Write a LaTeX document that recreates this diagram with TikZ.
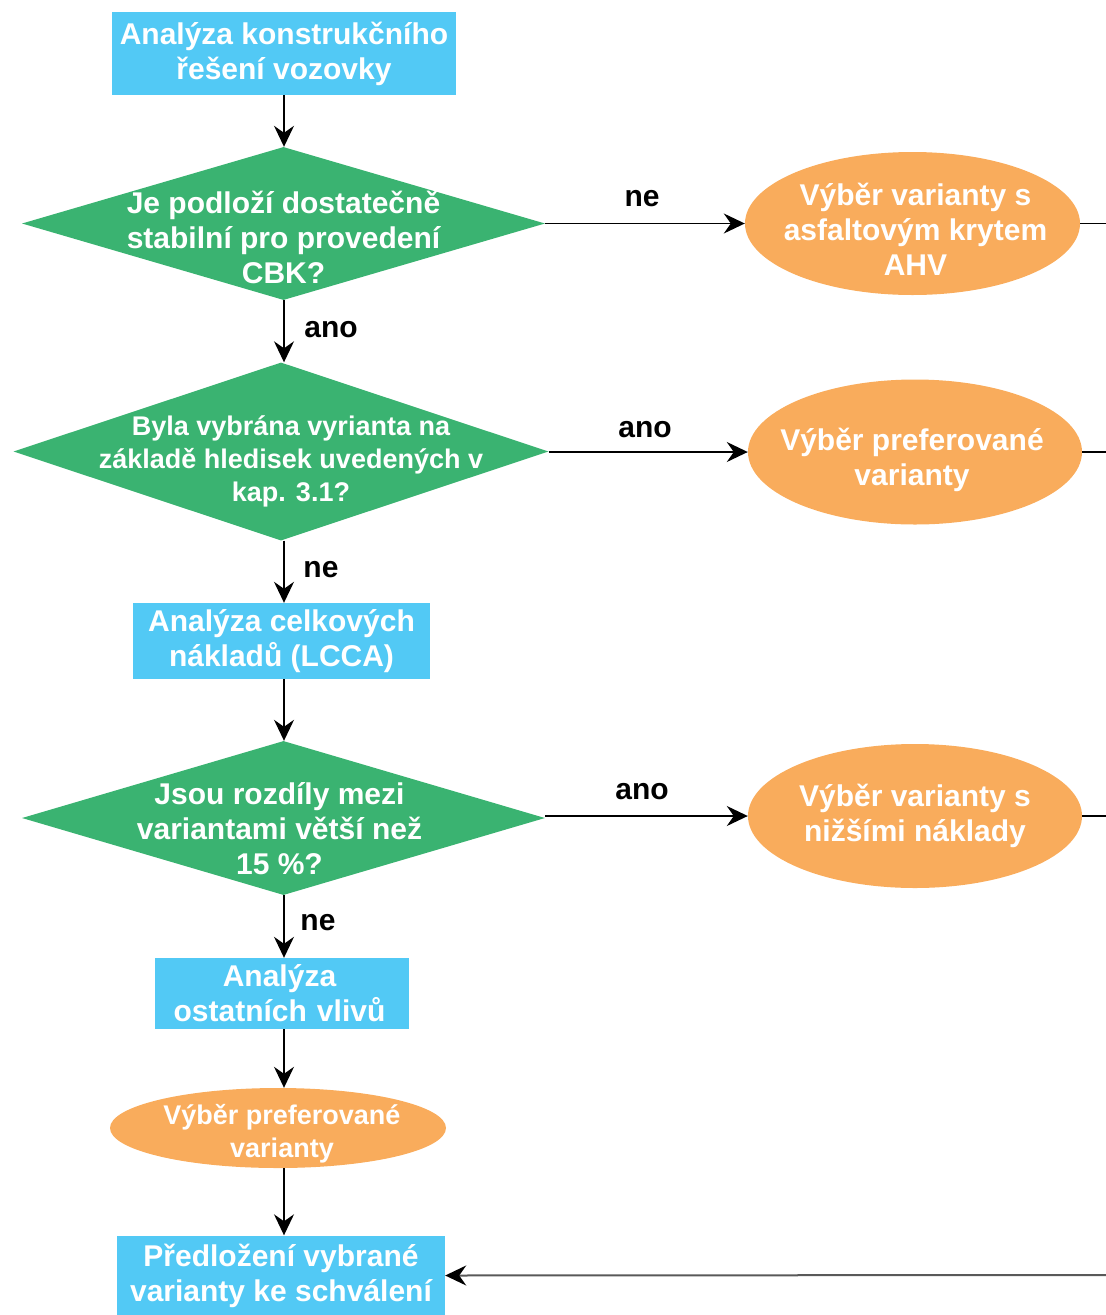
\documentclass[tikz,border=0pt]{standalone}
\usepackage{fontspec}
\setmainfont{Liberation Sans}
\usetikzlibrary{shapes.geometric,arrows.meta}
\definecolor{boxblue}{RGB}{82,201,245}
\definecolor{qgreen}{RGB}{58,179,113}
\definecolor{resorange}{RGB}{249,172,92}

\begin{document}
\begin{tikzpicture}[x=1pt,y=-1pt,
  every node/.style={font=\bfseries\fontsize{30}{35}\selectfont},
  procbox/.style={rectangle, fill=boxblue, inner sep=0pt, align=center, text=white},
  decision/.style={diamond, fill=qgreen, inner sep=0pt},
  result/.style={ellipse, fill=resorange, inner sep=0pt},
  inner/.style={align=center, text=white},
  smalltext/.style={font=\bfseries\fontsize{27}{33}\selectfont},
  answer/.style={text=black},
  tip/.style={-{Stealth[length=21pt,width=20pt,inset=7pt]}},
  flow/.style={draw=black, line width=1.4pt, tip},
  link/.style={draw=black, line width=1.4pt}
]
\useasboundingbox (0,0) rectangle (1106,1315);

% main column
\node[procbox, minimum width=344pt, minimum height=83pt] (a1) at (284,53.5)
  {Analýza konstrukčního\\řešení vozovky};
\node[decision, minimum width=523pt, minimum height=153pt,
  label={[inner, yshift=-14pt]center:Je podloží dostatečně\\stabilní pro provedení\\CBK?}] (q1) at (283.5,223.5) {};
\node[decision, minimum width=535pt, minimum height=178pt,
  label={[inner, smalltext, xshift=10pt, yshift=-10pt]center:Byla vybrána vyrianta na\\základě hledisek uvedených v\\kap. 3.1?}] (q2) at (281,451.5) {};
\node[procbox, minimum width=297pt, minimum height=76pt] (a2) at (281.5,641)
  {Analýza celkových\\nákladů (LCCA)};
\node[decision, minimum width=523pt, minimum height=154pt,
  label={[inner, xshift=-4pt, yshift=-11pt]center:Jsou rozdíly mezi\\variantami větší než\\15 \%?}] (q3) at (283.5,818) {};
\node[procbox, minimum width=254pt, minimum height=71pt, text width=254pt] (a3) at (282,993.5)
  {\hspace*{-5pt}Analýza\\\hspace*{-5pt}ostatních vlivů};
\node[result, minimum width=336pt, minimum height=80pt,
  label={[inner, smalltext, xshift=4pt, yshift=-6pt]center:Výběr preferované\\varianty}] (r4) at (278,1128) {};
\node[procbox, minimum width=328pt, minimum height=80pt] (a4) at (281,1275.5)
  {Předložení vybrané\\varianty ke schválení};

% right column
\node[result, minimum width=335pt, minimum height=143pt,
  label={[inner, xshift=3pt, yshift=-6pt]center:Výběr varianty s\\asfaltovým krytem\\AHV}] (r1) at (912.5,223.5) {};
\node[result, minimum width=334pt, minimum height=145pt,
  label={[inner, xshift=-3pt, yshift=-8pt]center:Výběr preferované\\varianty}] (r2) at (915,452) {};
\node[result, minimum width=334pt, minimum height=144pt,
  label={[inner]center:Výběr varianty s\\nižšími náklady}] (r3) at (915,816) {};

% free ends at the right border
\coordinate (e1) at (1106,223.5);
\coordinate (e2) at (1106,452);
\coordinate (e3) at (1106,816);
\coordinate (e4) at (1106,1275);
\coordinate (col) at (284,0);

% vertical flow
\draw[flow] (a1.south) -- (a1.south |- q1.north);
\draw[flow] (col |- q1.south) -- (col |- q2.north);
\draw[flow] (col |- q2.south) -- (col |- a2.north);
\draw[flow] (col |- a2.south) -- (col |- q3.north);
\draw[flow] (col |- q3.south) -- (col |- a3.north);
\draw[flow] (col |- a3.south) -- (col |- r4.north);
\draw[flow] (col |- r4.south) -- (col |- a4.north);

% branches to the right
\draw[flow] (q1.east) -- (r1.west);
\draw[flow] (q2.east |- r2.west) -- (r2.west);
\draw[flow] (q3.east |- r3.west) -- (r3.west);
\draw[link] (r1.east) -- (e1);
\draw[link] (r2.east) -- (e2);
\draw[link] (r3.east) -- (e3);
\draw[draw=black!65, line width=2pt, -{Stealth[length=21pt,width=20pt,inset=7pt,color=black]}] (e4) -- (a4.east);

% answers
\node[answer] (l1) at (642,199) {ne};
\node[answer] (l2) at (331,330) {ano};
\node[answer] (l3) at (645,430) {ano};
\node[answer] (l4) at (321,570) {ne};
\node[answer] (l5) at (642,792) {ano};
\node[answer] (l6) at (318,923) {ne};
\end{tikzpicture}
\end{document}
